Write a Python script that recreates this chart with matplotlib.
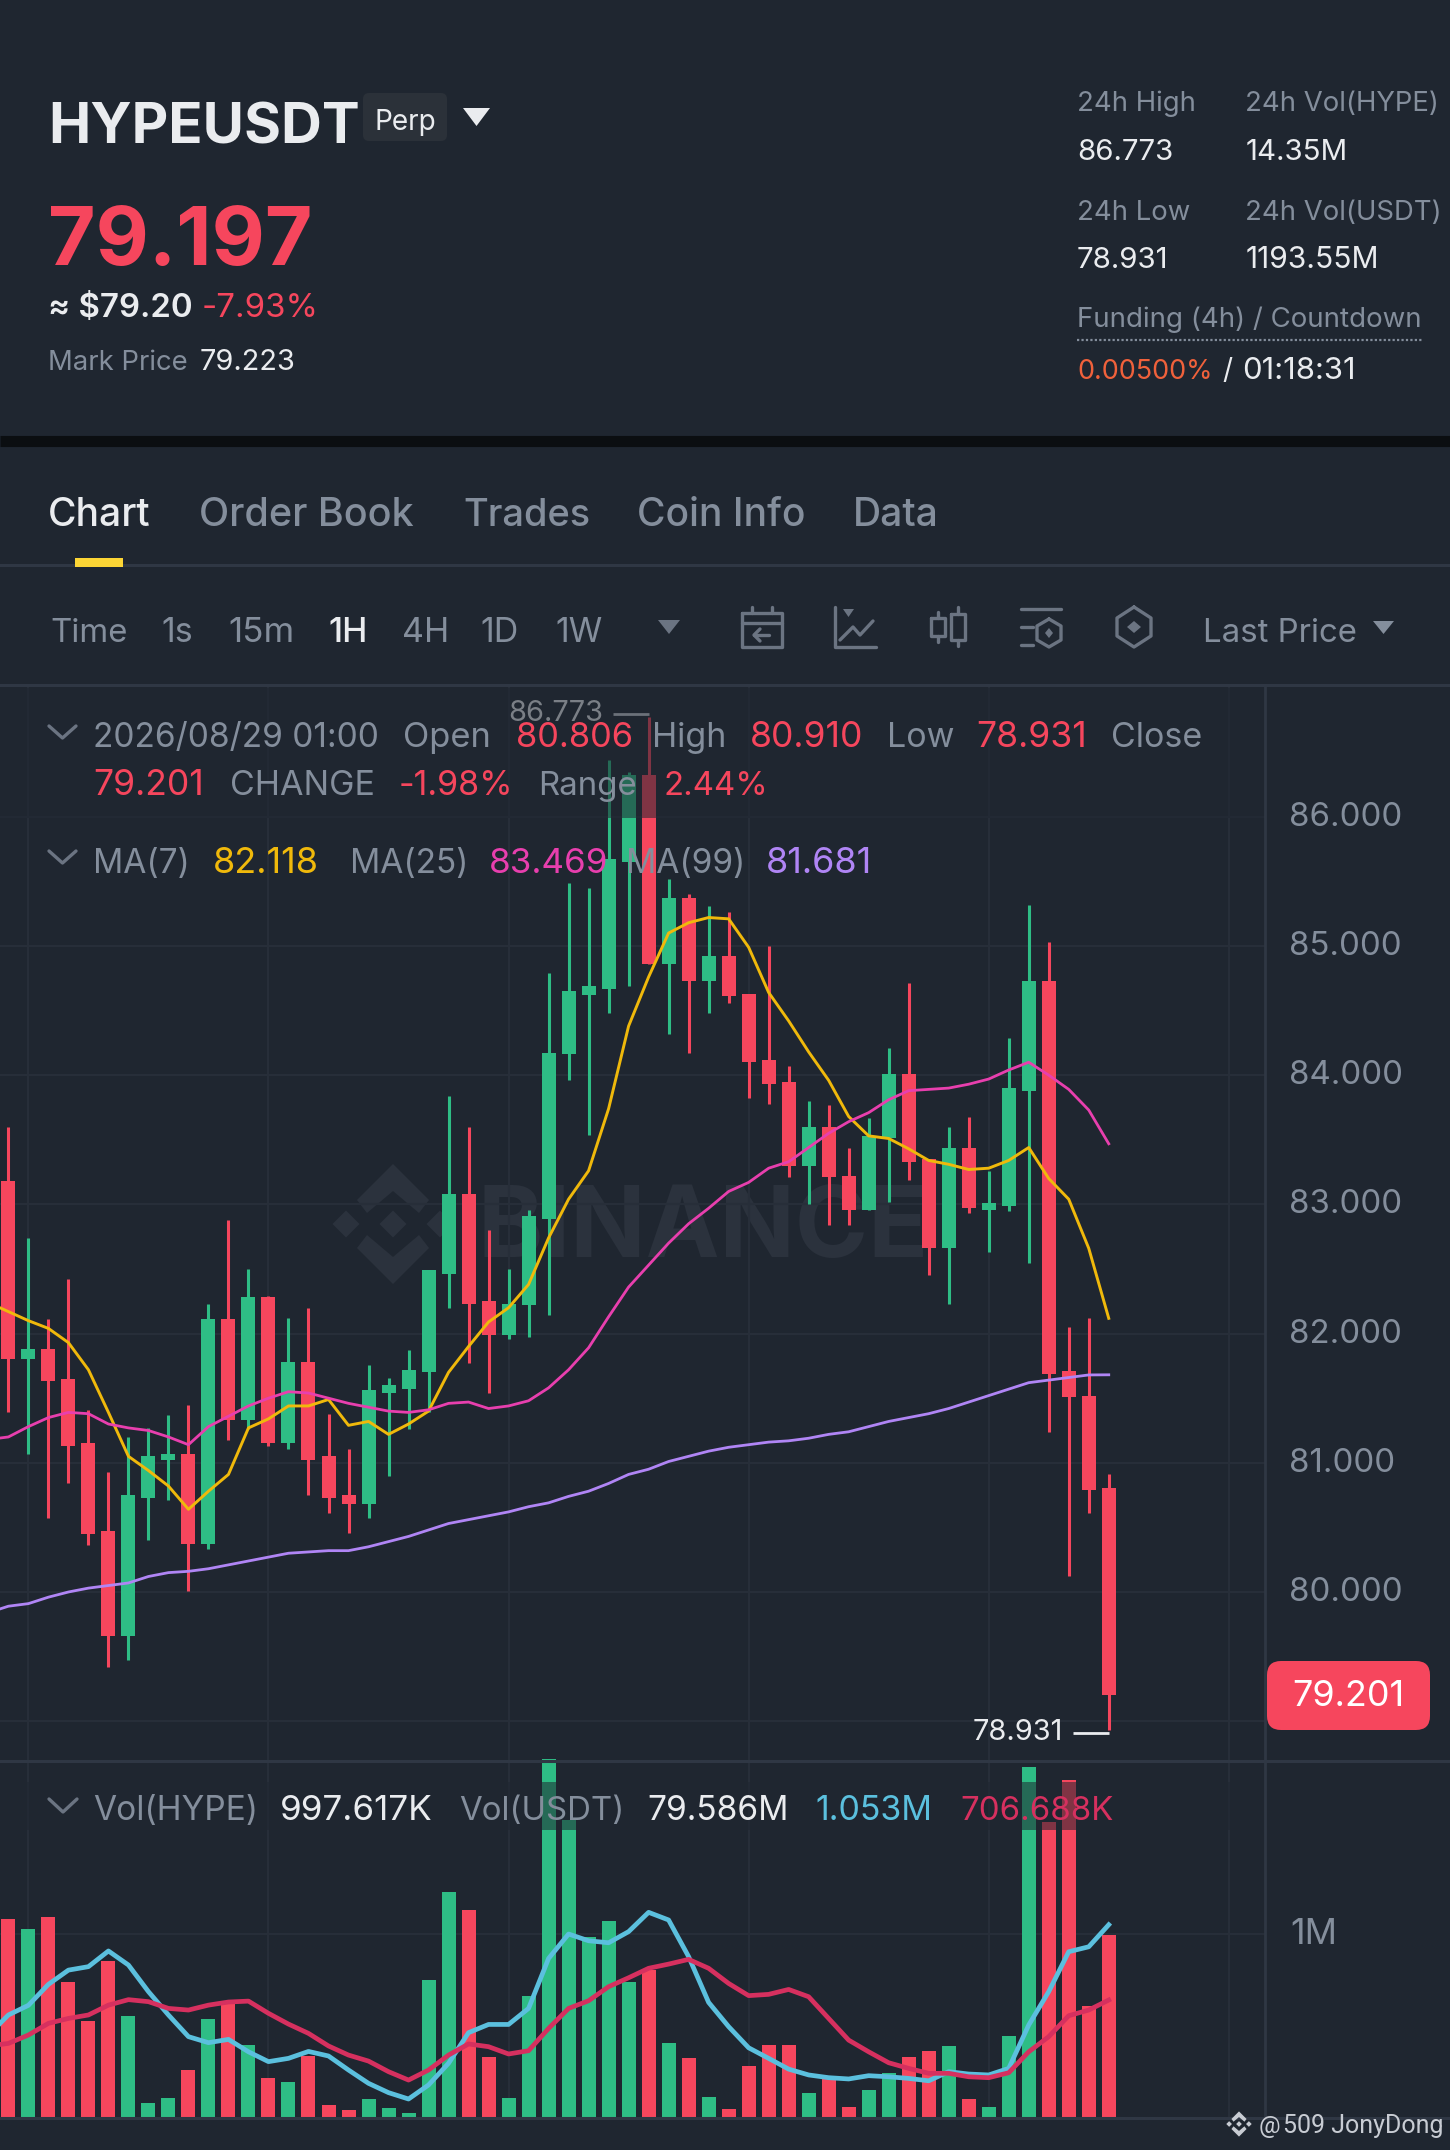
import numpy as np
import matplotlib
matplotlib.use('Agg')
import matplotlib.pyplot as plt
from matplotlib.patches import FancyBboxPatch, Polygon, Rectangle
from matplotlib.transforms import ScaledTranslation

plt.rcParams['font.family'] = ['Inter', 'DejaVu Sans']

# candles, one value per hour
opens = [83.18, 81.80, 81.88, 81.65, 81.15, 80.47, 79.66, 80.73, 81.02, 81.07, 80.37, 82.11, 81.33, 82.28,
         81.15, 81.78, 81.05, 80.75, 80.68, 81.54, 81.57, 81.70, 82.46, 83.08, 82.25, 81.99, 82.22, 82.89,
         84.16, 84.62, 84.67, 85.65, 86.32, 84.86, 85.37, 84.73, 84.92, 84.63, 84.12, 83.95, 83.30, 83.60,
         83.22, 82.96, 83.51, 84.01, 83.35, 82.66, 83.44, 82.96, 82.99, 83.88, 84.73, 81.71, 81.52, 80.806]
highs = [83.60, 82.74, 82.11, 82.42, 81.41, 80.93, 81.20, 81.27, 81.37, 81.45, 82.23, 82.88, 82.50, 82.29,
         82.12, 82.20, 81.38, 81.11, 81.76, 81.66, 81.87, 82.49, 83.84, 83.60, 82.80, 82.50, 82.96, 84.79,
         85.49, 85.45, 86.44, 86.35, 86.773, 85.52, 85.40, 85.31, 85.26, 84.63, 85.00, 84.07, 83.80, 83.77,
         83.44, 83.67, 84.21, 84.71, 83.35, 83.60, 83.68, 83.26, 84.29, 85.32, 85.03, 82.05, 82.12, 80.910]
lows = [81.39, 81.07, 80.57, 80.84, 80.36, 79.42, 79.47, 80.40, 80.71, 80.01, 80.33, 81.18, 81.26, 81.13,
        81.11, 80.75, 80.61, 80.46, 80.57, 80.90, 81.26, 81.39, 82.20, 81.77, 81.54, 81.96, 81.97, 82.14,
        83.96, 83.54, 84.48, 84.69, 84.86, 84.32, 84.17, 84.48, 84.56, 83.82, 83.78, 83.21, 83.00, 82.84,
        82.84, 82.96, 83.02, 83.19, 82.45, 82.23, 82.93, 82.63, 82.95, 82.55, 81.24, 80.12, 80.61, 78.931]
closes = [81.80, 81.88, 81.63, 81.13, 80.45, 79.66, 80.75, 81.05, 81.07, 80.37, 82.11, 81.33, 82.28, 81.15,
          81.78, 81.02, 80.73, 80.68, 81.56, 81.60, 81.72, 82.49, 83.08, 82.23, 81.99, 82.23, 82.91, 84.17,
          84.65, 84.69, 85.67, 86.32, 84.86, 85.37, 84.73, 84.92, 84.61, 84.10, 83.93, 83.30, 83.60, 83.21,
          82.96, 83.53, 84.01, 83.33, 82.66, 83.44, 82.97, 83.01, 83.90, 84.73, 81.69, 81.51, 80.79, 79.201]

# moving averages start one hour left of the first candle
ma7 = [82.24, 82.17, 82.10, 82.04, 81.93, 81.72, 81.39, 81.05, 80.94, 80.82, 80.64, 80.78, 80.91, 81.27, 81.34,
       81.44, 81.44, 81.49, 81.29, 81.32, 81.22, 81.30, 81.40, 81.70, 81.90, 82.09, 82.20, 82.38, 82.74, 83.04,
       83.26, 83.74, 84.38, 84.76, 85.10, 85.18, 85.22, 85.21, 84.99, 84.64, 84.42, 84.18, 83.96, 83.68, 83.53,
       83.51, 83.43, 83.34, 83.31, 83.27, 83.28, 83.34, 83.44, 83.20, 83.04, 82.66, 82.118]
ma25 = [81.18, 81.20, 81.28, 81.35, 81.39, 81.38, 81.30, 81.27, 81.25, 81.20, 81.14, 81.28, 81.36, 81.44, 81.50,
        81.55, 81.54, 81.50, 81.46, 81.43, 81.40, 81.39, 81.41, 81.46, 81.47, 81.42, 81.44, 81.48, 81.58, 81.72,
        81.89, 82.13, 82.36, 82.53, 82.70, 82.85, 82.97, 83.10, 83.17, 83.28, 83.33, 83.44, 83.55, 83.64, 83.71,
        83.81, 83.88, 83.89, 83.90, 83.93, 83.97, 84.04, 84.10, 84.00, 83.89, 83.73, 83.469]
ma99 = [79.84, 79.89, 79.91, 79.96, 80.00, 80.03, 80.05, 80.07, 80.12, 80.15, 80.16, 80.18, 80.21, 80.24, 80.27,
        80.30, 80.31, 80.32, 80.32, 80.35, 80.39, 80.43, 80.48, 80.53, 80.56, 80.59, 80.62, 80.66, 80.69, 80.74,
        80.78, 80.84, 80.91, 80.95, 81.01, 81.05, 81.09, 81.12, 81.14, 81.16, 81.17, 81.19, 81.22, 81.24, 81.28,
        81.32, 81.35, 81.38, 81.42, 81.47, 81.52, 81.57, 81.62, 81.64, 81.66, 81.68, 81.681]

# volume in millions
volume = [1.082, 1.027, 1.095, 0.739, 0.527, 0.854, 0.552, 0.073, 0.102, 0.256, 0.537, 0.622, 0.393, 0.210,
          0.190, 0.335, 0.064, 0.038, 0.095, 0.048, 0.018, 0.750, 1.230, 1.132, 0.325, 0.102, 0.662, 1.962,
          1.627, 0.987, 1.075, 0.740, 0.804, 0.402, 0.324, 0.106, 0.044, 0.278, 0.393, 0.393, 0.128, 0.219,
          0.053, 0.144, 0.238, 0.327, 0.362, 0.389, 0.095, 0.053, 0.442, 1.916, 1.616, 1.846, 0.607, 0.998]
vol_ma_a = [0.448, 0.558, 0.611, 0.726, 0.804, 0.823, 0.909, 0.832, 0.686, 0.558, 0.439, 0.406, 0.424, 0.356, 0.302,
            0.320, 0.358, 0.333, 0.256, 0.183, 0.132, 0.097, 0.174, 0.293, 0.461, 0.506, 0.506, 0.594, 0.868, 1.002,
            0.965, 0.954, 1.015, 1.121, 1.079, 0.878, 0.627, 0.494, 0.378, 0.320, 0.261, 0.229, 0.214, 0.207, 0.225,
            0.219, 0.210, 0.197, 0.247, 0.234, 0.229, 0.265, 0.503, 0.686, 0.905, 0.932, 1.053]
vol_ma_b = [0.388, 0.402, 0.448, 0.512, 0.539, 0.558, 0.612, 0.642, 0.631, 0.594, 0.585, 0.612, 0.629, 0.634, 0.567,
            0.508, 0.457, 0.388, 0.338, 0.305, 0.247, 0.201, 0.256, 0.338, 0.399, 0.384, 0.344, 0.362, 0.484, 0.594,
            0.636, 0.713, 0.762, 0.814, 0.837, 0.863, 0.814, 0.731, 0.664, 0.671, 0.698, 0.658, 0.539, 0.420, 0.356,
            0.296, 0.265, 0.238, 0.238, 0.219, 0.214, 0.241, 0.356, 0.439, 0.554, 0.585, 0.640]

price_ticks = [79, 80, 81, 82, 83, 84, 85, 86]
grid_hours = [1, 13, 25, 37, 49, 61]

BG = '#1f2630'
GRID = '#272e39'
LINE = '#2f3744'
RED = '#f6465d'
GREEN = '#2ebd85'
GRAY = '#848e9c'
WHITE = '#eaecef'
YELLOW = '#f0b90b'
PINK = '#e83fae'
PURPLE = '#b085f5'
BLUE = '#5bc0de'
VOLRED = '#d6305f'
ICON = '#6b7482'
MARK = '#2b323d'

W, H = 1450, 2150
fig = plt.figure(figsize=(W / 100, H / 100), dpi=100, facecolor=BG)


def px_axes(left, top, right, bottom, z):
    return fig.add_axes([left / W, 1 - bottom / H, (right - left) / W, (bottom - top) / H], zorder=z)


# backdrop and overlay both work in screen pixels
back = px_axes(0, 0, W, H, 0)
over = px_axes(0, 0, W, H, 5)
for a in (back, over):
    a.set_xlim(0, W)
    a.set_ylim(H, 0)
    a.axis('off')
over.patch.set_alpha(0)


def put(x, y, s, color=GRAY, size=28, weight='normal', ha='left', va='baseline', ax=over):
    ax.text(x, y, s, color=color, fontsize=size * 0.72, fontweight=weight, ha=ha, va=va)


# binance mark behind the candles
def binance_logo(ax, cx, cy, k, color, z=2):
    for sign in (-1, 1):
        pts = [(0, -60), (36, -24), (26, -11), (0, -33), (-26, -11), (-36, -24)]
        ax.add_patch(Polygon([(cx + k * p[0], cy + sign * k * p[1]) for p in pts], closed=True, fc=color, ec='none', zorder=z))
    for dx in (-47, 0, 47):
        pts = [(dx - 13.5, 0), (dx, -13.5), (dx + 13.5, 0), (dx, 13.5)]
        ax.add_patch(Polygon([(cx + k * p[0], cy + k * p[1]) for p in pts], closed=True, fc=color, ec='none', zorder=z))


binance_logo(back, 393, 1224, 1.0, MARK)
back.text(478, 1257, 'BINANCE', color=MARK, fontsize=99 * 0.72, fontweight='bold', ha='left', va='baseline')

# price pane
ax = px_axes(0, 686, 1265, 1761, 2)
ax.patch.set_alpha(0)
hours = np.arange(len(opens))
line_hours = np.arange(-1, len(opens))
ax.set_xlim(-0.42, 62.81)
ax.set_ylim(78.692, 87.012)
for s in ax.spines.values():
    s.set_visible(False)
ax.set_xticks(grid_hours)
ax.set_xticklabels([])
ax.set_yticks(price_ticks)
ax.set_yticklabels([f'{p:.3f}' for p in price_ticks])
ax.yaxis.tick_right()
ax.tick_params(axis='both', length=0)
ax.tick_params(axis='y', labelsize=33 * 0.72, labelcolor=GRAY, pad=17.5)
ax.grid(True, color=GRID, lw=1.5)
ax.set_axisbelow(True)

for i in hours:
    up = closes[i] >= opens[i]
    c = GREEN if up else RED
    ax.vlines(i, lows[i], highs[i], color=c, lw=2.2, zorder=3)
    ax.bar(i, abs(closes[i] - opens[i]), bottom=min(opens[i], closes[i]), width=0.7, color=c, zorder=3)

ax.plot(line_hours, ma7, color=YELLOW, lw=2.1, zorder=4)
ax.plot(line_hours, ma25, color=PINK, lw=2.0, zorder=4)
ax.plot(line_hours, ma99, color=PURPLE, lw=2.0, zorder=4)

# high and low markers
top_i = int(np.argmax(highs))
low_i = int(np.argmin(lows))
ax.hlines(highs[top_i] + 0.025, top_i - 1.8, top_i, color='#c8ccd2', lw=2, zorder=4)
ax.text(top_i - 2.25, highs[top_i] + 0.025, f'{highs[top_i]:.3f}', color=WHITE, fontsize=29 * 0.72, ha='right', va='center', zorder=4)
ax.hlines(lows[low_i] - 0.02, low_i - 1.8, low_i, color=WHITE, lw=2, zorder=4)
ax.text(low_i - 2.3, lows[low_i] - 0.02, f'{lows[low_i]:.3f}', color=WHITE, fontsize=29 * 0.72, ha='right', va='center', zorder=4)

# volume pane
vax = px_axes(0, 1761, 1265, 2116.7, 2)
vax.patch.set_alpha(0)
vax.set_xlim(-0.42, 62.81)
vax.set_ylim(0, 1.951)
for s in vax.spines.values():
    s.set_visible(False)
vax.set_xticks(grid_hours)
vax.set_xticklabels([])
vax.set_yticks([1])
vax.set_yticklabels(['1M'])
vax.yaxis.tick_right()
vax.tick_params(axis='both', length=0)
vax.tick_params(axis='y', labelsize=36 * 0.72, labelcolor=GRAY, pad=18)
vax.grid(True, color=GRID, lw=1.5)
vax.set_axisbelow(True)
vol_colors = [GREEN if closes[i] >= opens[i] else RED for i in hours]
vax.bar(hours, volume, width=0.7, color=vol_colors, zorder=3, clip_on=False)
vax.plot(line_hours, vol_ma_a, color=BLUE, lw=3.4, zorder=4)
vax.plot(line_hours, vol_ma_b, color=VOLRED, lw=3.4, zorder=4)

# tick labels sit a little above their grid lines
lift = ScaledTranslation(0, 3 / 100, fig.dpi_scale_trans)
for label in ax.get_yticklabels() + vax.get_yticklabels():
    label.set_transform(label.get_transform() + lift)

# legend bands dim whatever is under them
over.add_patch(Rectangle((0, 688), 1264, 130, fc=BG, ec='none', alpha=0.55, zorder=1))
over.add_patch(Rectangle((0, 1782), 1264, 48, fc=BG, ec='none', alpha=0.55, zorder=1))

# frame lines
over.plot([0, W], [435 + 5.5, 435 + 5.5], color='#0b0e11', lw=8, solid_capstyle='butt', zorder=1)
over.plot([0, W], [565, 565], color=LINE, lw=2.2, zorder=1)
over.plot([0, W], [685, 685], color=LINE, lw=2.2, zorder=1)
over.plot([0, W], [1761, 1761], color=LINE, lw=2.2, zorder=1)
over.plot([0, W], [2118, 2118], color=LINE, lw=2.2, zorder=1)
over.plot([1265, 1265], [686, 2118], color=LINE, lw=2, zorder=1)
over.add_patch(Rectangle((75, 558), 48, 9, fc='#fcd535', ec='none', zorder=2))

# header
put(48, 144, 'HYPEUSDT', WHITE, 56.5, 'bold')
over.add_patch(FancyBboxPatch((367, 97), 76, 40, boxstyle='round,pad=4,rounding_size=6', fc='#2b3139', ec='none', zorder=1))
put(405, 130, 'Perp', WHITE, 28, ha='center')
over.add_patch(Polygon([(463, 108), (490, 108), (476.5, 126)], closed=True, fc=WHITE, ec='none'))
put(48, 264.5, '79.197', RED, 82, 'bold')
put(48, 317, '≈ $79.20', WHITE, 33, 'semibold')
put(202, 317, '-7.93%', RED, 33)
put(48, 370, 'Mark Price', GRAY, 27.5)
put(200, 370, '79.223', WHITE, 29)

put(1077, 111, '24h High', GRAY, 27.5)
put(1245, 111, '24h Vol(HYPE)', GRAY, 27.5)
put(1077, 159.5, '86.773', WHITE, 29.5)
put(1246, 159.5, '14.35M', WHITE, 29.5)
put(1077, 220, '24h Low', GRAY, 27.5)
put(1245, 220, '24h Vol(USDT)', GRAY, 27.5)
put(1077, 267.5, '78.931', WHITE, 29.5)
put(1246, 267.5, '1193.55M', WHITE, 30)
put(1077, 327, 'Funding (4h) / Countdown', GRAY, 27.7)
over.plot([1077, 1422], [340, 340], color=GRAY, lw=1.6, ls=(0, (1, 1)))
put(1077, 378.6, '0.00500%', '#f0613b', 27)
put(1227, 378.6, '/', WHITE, 28, ha='center')
put(1242, 378.6, '01:18:31', WHITE, 31)

# tabs
put(48, 525.5, 'Chart', WHITE, 39, 'medium')
put(199, 525.5, 'Order Book', GRAY, 39.5, 'medium')
put(463, 525.5, 'Trades', GRAY, 38, 'medium')
put(637, 525.5, 'Coin Info', GRAY, 39, 'medium')
put(853, 525.5, 'Data', GRAY, 39, 'medium')

# interval row
put(50, 642, 'Time', GRAY, 33)
put(161, 642, '1s', GRAY, 34)
put(228, 642, '15m', GRAY, 35)
put(328, 642, '1H', WHITE, 34, 'medium')
put(402, 642, '4H', GRAY, 34)
put(480, 642, '1D', GRAY, 34)
put(555, 642, '1W', GRAY, 34)
over.add_patch(Polygon([(658, 620), (680, 620), (669, 634)], closed=True, fc=ICON, ec='none'))
put(1203, 642, 'Last Price', GRAY, 33)
over.add_patch(Polygon([(1373, 621), (1394, 621), (1383.5, 634)], closed=True, fc=GRAY, ec='none'))


def stroke(xs, ys, lw=2.4):
    over.plot(xs, ys, color=ICON, lw=lw, solid_capstyle='round', solid_joinstyle='round', zorder=2)


# toolbar icons
stroke([742, 782, 782, 742, 742], [613, 613, 647, 647, 613])
stroke([742, 782], [623, 623])
stroke([752, 752], [607, 613])
stroke([772, 772], [607, 613])
stroke([769, 754], [635, 635])
stroke([760, 754, 760], [629, 635, 641])
stroke([835, 835, 876], [607, 647, 647])
over.add_patch(Polygon([(843, 609), (854, 609), (848.5, 617)], closed=True, fc=ICON, ec='none'))
stroke([840, 853, 860, 873], [640, 627, 635, 621])
stroke([931, 945, 945, 931, 931], [618, 618, 636, 636, 618])
stroke([938, 938], [612, 618])
stroke([938, 938], [636, 642])
stroke([951, 965, 965, 951, 951], [614, 614, 640, 640, 614])
stroke([958, 958], [607, 614])
stroke([958, 958], [640, 646])
stroke([1021, 1061], [609, 609])
stroke([1021, 1033], [627, 627])
stroke([1021, 1033], [645, 645])
stroke([1049, 1061, 1061, 1049, 1037, 1037, 1049], [619, 626, 640, 647, 640, 626, 619])
over.add_patch(Polygon([(1045, 633), (1049, 628), (1053, 633), (1049, 638)], closed=True, fc=ICON, ec='none'))
stroke([1134, 1151, 1151, 1134, 1117, 1117, 1134], [607, 618, 636, 647, 636, 618, 607])
over.add_patch(Polygon([(1127, 627), (1134, 621), (1141, 627), (1134, 633)], closed=True, fc=ICON, ec='none'))

# legends
stroke([49, 62.5, 76], [726, 738, 726])
put(93, 747, '2026/08/29 01:00', GRAY, 33.5)
put(403, 747, 'Open', GRAY, 34.5)
put(516, 747, '80.806', RED, 34.5)
put(652, 747, 'High', GRAY, 34)
put(750, 747, '80.910', RED, 35.5)
put(887, 747, 'Low', GRAY, 34)
put(976, 747, '78.931', RED, 35.5)
put(1111, 747, 'Close', GRAY, 34)
put(93, 795, '79.201', RED, 35.5)
put(230, 795, 'CHANGE', GRAY, 34)
put(399, 795, '-1.98%', RED, 34)
put(538, 795, 'Range', GRAY, 33)
put(664, 795, '2.44%', RED, 33)
stroke([49, 62.5, 76], [851, 863, 851])
put(93, 873, 'MA(7)', GRAY, 33.5)
put(213, 873, '82.118', YELLOW, 36)
put(350, 873, 'MA(25)', GRAY, 33.5)
put(489, 873, '83.469', PINK, 35)
put(626, 873, 'MA(99)', GRAY, 33.5)
put(766, 873, '81.681', PURPLE, 36)
stroke([49, 63, 77], [1799, 1812, 1799])
put(93, 1820, 'Vol(HYPE)', GRAY, 33.5)
put(280, 1820, '997.617K', WHITE, 35)
put(459, 1820, 'Vol(USDT)', GRAY, 33)
put(647, 1820, '79.586M', WHITE, 33.5)
put(815, 1820, '1.053M', BLUE, 34)
put(960, 1820, '706.688K', VOLRED, 33)

# last price tag
over.add_patch(FancyBboxPatch((1275, 1669), 147, 53, boxstyle='round,pad=8,rounding_size=14', fc=RED, ec='none', zorder=3))
over.text(1348, 1697, '79.201', color='white', fontsize=36 * 0.72, ha='center', va='center', zorder=4)

# footer signature
binance_logo(over, 1239, 2124, 0.21, '#c8ccd3')
over.text(1259, 2133, '@', color='#c8ccd3', fontsize=24 * 0.72, family='Roboto', ha='left', va='baseline')
over.text(1283, 2133, '509 JonyDong', color='#c8ccd3', fontsize=25 * 0.72, family='Roboto', ha='left', va='baseline')

fig.savefig('out.png', dpi=100, facecolor=BG)
